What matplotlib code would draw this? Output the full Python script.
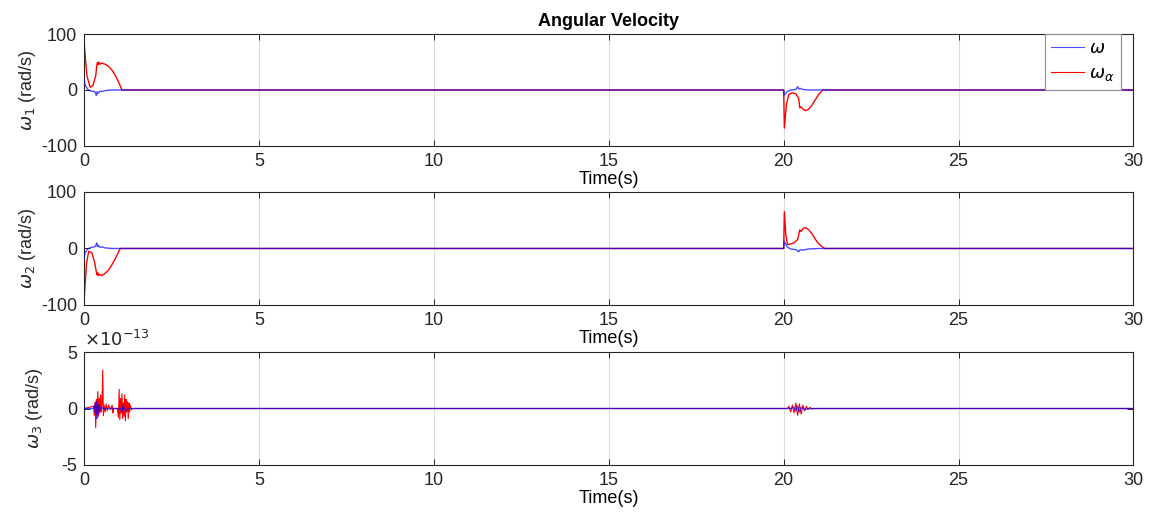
import matplotlib.pyplot as plt
import numpy as np

plt.rcParams['font.family'] = ['Liberation Sans', 'DejaVu Sans']
plt.rcParams['mathtext.fontset'] = 'dejavusans'
plt.rcParams['axes.unicode_minus'] = False

# ---- data (time in s, values in rad/s) ----
# omega_1
w1_t = [0, 0.02, 0.1, 0.2, 0.3, 0.33, 0.35, 0.37, 0.4, 0.45, 0.5, 0.6, 0.8,
        20.0, 20.02, 20.1, 20.2, 20.35, 20.4, 20.43, 20.47, 20.55, 20.7, 21.0, 30]
w1 = [18, 10, 1, -2, -3, -6, -10, -3, -6, -2, -3, -1, 0,
      0, -9, -3, 0, 1, 6, 2, 3, 1, 0, 0, 0]
w1a_t = [0, 0.03, 0.08, 0.17, 0.25, 0.33, 0.36, 0.38, 0.40, 0.42, 0.45, 0.5, 0.6,
         0.7, 0.8, 0.9, 1.0, 1.08,
         20.0, 20.02, 20.08, 20.15, 20.25, 20.35, 20.43, 20.46, 20.5, 20.55, 20.62,
         20.7, 20.8, 20.9, 21.0, 21.12, 30]
w1a = [85, 60, 25, 5, 8, 25, 44, 49, 45, 50, 46, 48, 46,
       42, 35, 25, 12, 0,
       0, -68, -25, -8, -5, -7, -15, -32, -30, -34, -37,
       -35, -28, -18, -8, 0, 0]

# omega_2
w2_t = [0, 0.02, 0.1, 0.2, 0.3, 0.33, 0.36, 0.38, 0.4, 0.45, 0.5, 0.6, 0.8,
        20.0, 20.02, 20.1, 20.2, 20.35, 20.4, 20.43, 20.47, 20.55, 20.7, 21.0, 30]
w2 = [-16, -8, -1, 2, 3, 5, 10, 3, 6, 2, 3, 1, 0,
      0, 12, 3, -1, -2, -4, -6, -2, -3, -1, 0, 0]
w2a_t = [0, 0.03, 0.07, 0.13, 0.22, 0.3, 0.35, 0.37, 0.39, 0.41, 0.45, 0.5, 0.6,
         0.7, 0.8, 0.9, 1.03,
         20.0, 20.02, 20.06, 20.11, 20.2, 20.3, 20.4, 20.46, 20.5, 20.55, 20.6,
         20.7, 20.8, 20.9, 21.0, 21.17, 30]
w2a = [-90, -60, -25, -5, -8, -25, -42, -47, -43, -48, -46, -48, -44,
       -38, -28, -17, 0,
       0, 65, 25, 7, 8, 10, 16, 33, 30, 35, 37,
       34, 27, 17, 8, 0, 0]

# omega_3 (x 1e-13)
w3_t = [0, 0.28, 0.30, 0.32, 0.34, 0.36, 0.38, 0.40, 0.42, 0.44, 0.48, 0.55,
        1.05, 1.08, 1.1, 1.2, 1.25,
        20.2, 20.3, 20.35, 20.4, 20.45, 20.5, 20.6, 20.7, 30]
w3 = [0, 0, 0.3, -0.4, 0.6, -0.9, 0.4, -0.5, 0.3, -0.2, 0.1, 0,
      0, -0.3, 0.2, -0.2, 0,
      0, 0.1, -0.2, 0.2, -0.3, 0.1, -0.1, 0, 0]
w3a_t = [0, 0.27, 0.29, 0.31, 0.33, 0.35, 0.37, 0.39, 0.41, 0.43, 0.45, 0.47,
         0.49, 0.51, 0.53, 0.55, 0.57, 0.6, 0.63, 0.66, 0.7, 0.75, 0.8, 0.82,
         0.84, 0.95, 0.98, 1.0, 1.02, 1.04, 1.06, 1.08, 1.1, 1.12, 1.14, 1.16,
         1.18, 1.2, 1.22, 1.24, 1.26, 1.28, 1.3, 1.32, 1.35, 1.4,
         20.1, 20.15, 20.2, 20.25, 20.3, 20.35, 20.4, 20.45, 20.5, 20.55, 20.6,
         20.65, 20.7, 20.75, 20.8, 20.85, 30]
w3a = [0, 0.2, -0.6, 0.5, -1.7, 0.8, -0.5, 1.5, -0.7, 0.9, -0.4, 1.2,
       -0.3, 0.4, 3.4, -0.6, 0.3, -0.3, 0.4, -0.2, 0.3, -0.1, 0.3, -0.4,
       0, 0, -0.8, 1.7, -1.0, 0.9, -0.4, 1.3, -0.9, 0.5, -0.7, 1.2,
       -1.1, 0.8, -0.3, 0.6, -0.9, 0.5, -0.3, 0.3, -0.1, 0,
       0, 0.2, -0.3, 0.3, -0.4, 0.5, -0.6, 0.4, -0.5, 0.3, -0.2,
       0.2, -0.1, 0.1, -0.05, 0, 0]

xticks = [0, 5, 10, 15, 20, 25, 30]
ylabels = [r'$\omega_1$ (rad/s)', r'$\omega_2$ (rad/s)', r'$\omega_3$ (rad/s)']
w3_ticks = [-5e-13, 0, 5e-13]
w3_ticklabels = ['-5', '0', '5']


def style_axes(ax):
    ax.set_xlim(0, 30)
    ax.set_xticks(xticks)
    ax.tick_params(direction='in', top=True, right=True, labelsize=13,
                   colors='#262626', length=4, width=0.7, pad=5)
    ax.grid(axis='x', color='#dcdcdc', linewidth=0.8)
    ax.set_axisbelow(True)
    for s in ax.spines.values():
        s.set_color('#262626')
        s.set_linewidth(0.8)
    ax.set_xlabel('Time(s)', fontsize=13, labelpad=1)


fig = plt.figure(figsize=(11.53, 5.24), dpi=100)
ax1 = fig.add_axes([0.073, 0.7214, 0.910, 0.2137])
ax2 = fig.add_axes([0.073, 0.418, 0.910, 0.2156])
ax3 = fig.add_axes([0.073, 0.1126, 0.910, 0.2156])

for ax, t, w, ta, wa, lab in [(ax1, w1_t, w1, w1a_t, w1a, ylabels[0]),
                              (ax2, w2_t, w2, w2a_t, w2a, ylabels[1])]:
    ax.plot(ta, wa, color='#ff0000', lw=1.0, label=r'$\omega_\alpha$', zorder=2)
    ax.plot(t, w, color='#0000ff', lw=1.0, alpha=0.7, label=r'$\omega$', zorder=3)
    ax.set_ylim(-100, 100)
    ax.set_yticks([-100, 0, 100])
    style_axes(ax)
    ax.set_ylabel(lab, fontsize=13, color='#262626', labelpad=2)

ax3.plot(np.array(w3a_t) , np.array(w3a) * 1e-13, color='#ff0000', lw=0.8, zorder=2)
ax3.plot(np.array(w3_t), np.array(w3) * 1e-13, color='#0000ff', lw=1.0, alpha=0.7, zorder=3)
ax3.set_ylim(-5e-13, 5e-13)
ax3.set_yticks(w3_ticks, labels=w3_ticklabels)
style_axes(ax3)
ax3.set_ylabel(ylabels[2], fontsize=13, color='#262626', labelpad=12)
ax3.text(0, 1.015, r'$\times10^{-13}$', transform=ax3.transAxes, fontsize=13,
         color='#262626', ha='left', va='bottom')

ax1.set_title('Angular Velocity', fontsize=13, fontweight='bold', pad=6)

h, l = ax1.get_legend_handles_labels()
leg = ax1.legend(h[::-1], l[::-1], loc='upper right', bbox_to_anchor=(0.988, 1.0),
                 fancybox=False, framealpha=1, edgecolor='#8c8c8c', fontsize=13,
                 handlelength=1.8, borderpad=0.35, labelspacing=0.45, handletextpad=0.3,
                 borderaxespad=0)
leg.get_frame().set_linewidth(0.8)
for ln in leg.get_lines():
    ln.set_linewidth(0.8)

fig.savefig('out.png', dpi=100)
